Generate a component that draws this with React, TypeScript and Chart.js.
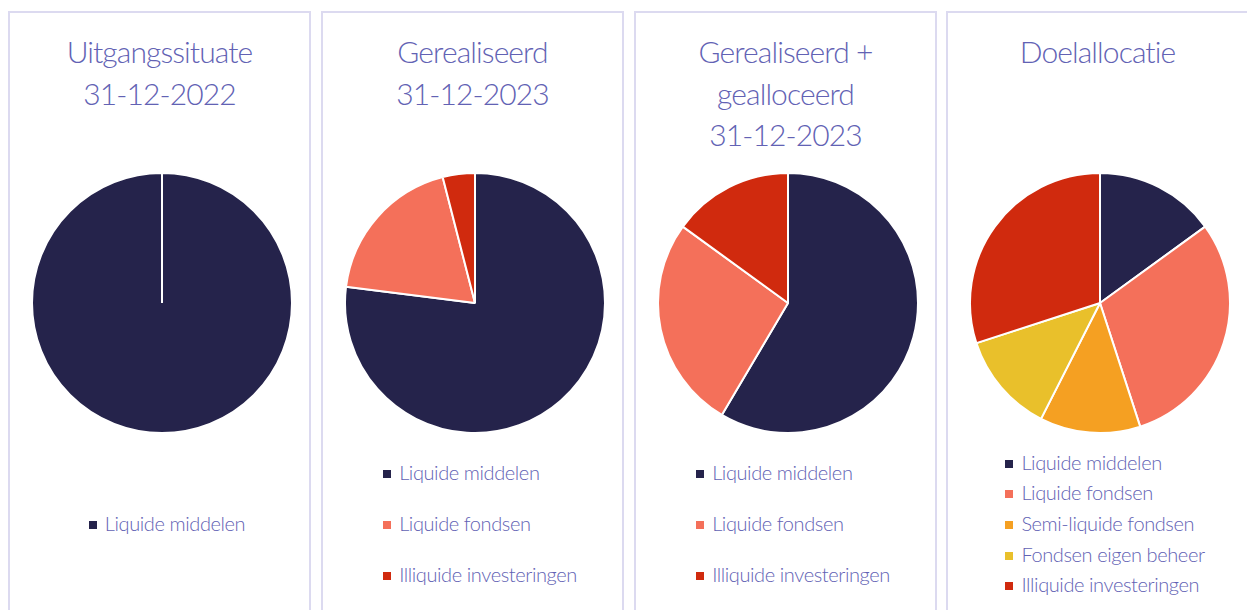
import React, { useEffect, useRef } from "react";
import { Chart, registerables } from "chart.js";

Chart.register(...registerables);

// ---- data ----
const categories = [
  "Liquide middelen",
  "Liquide fondsen",
  "Semi-liquide fondsen",
  "Fondsen eigen beheer",
  "Illiquide investeringen",
];
const categoryColors = ["#25234b", "#f4705a", "#f5a022", "#e9c02b", "#d02a0e"];

const titleUitgangs = ["Uitgangssituate", "31-12-2022"];
const titleGerealiseerd = ["Gerealiseerd", "31-12-2023"];
const titleGealloceerd = ["Gerealiseerd +", "gealloceerd", "31-12-2023"];
const titleDoel = ["Doelallocatie"];

const catsUitgangs = [0];
const valuesUitgangs = [100];

const catsGerealiseerd = [0, 1, 4];
const valuesGerealiseerd = [77, 19, 4];

const catsGealloceerd = [0, 1, 4];
const valuesGealloceerd = [58.5, 26.5, 15];

const catsDoel = [0, 1, 2, 3, 4];
const valuesDoel = [15, 30, 12.5, 12.5, 30];

const TEXT_COLOR = "#6262b4";
const FONT = "Lato, 'Open Sans', sans-serif";

type PanelProps = {
  left: number;
  title: string[];
  cats: number[];
  values: number[];
};

function PieCanvas({ cats, values }: { cats: number[]; values: number[] }) {
  const ref = useRef<HTMLCanvasElement | null>(null);
  useEffect(() => {
    if (!ref.current) return;
    const chart = new Chart(ref.current, {
      type: "pie",
      data: {
        labels: cats.map((c) => categories[c]),
        datasets: [
          {
            data: values,
            backgroundColor: cats.map((c) => categoryColors[c]),
            borderColor: "#ffffff",
            borderWidth: 2,
          },
        ],
      },
      options: {
        responsive: false,
        maintainAspectRatio: false,
        animation: false,
        layout: { padding: 0 },
        plugins: {
          legend: { display: false },
          tooltip: { enabled: false },
          title: { display: false },
        },
      },
    });
    return () => chart.destroy();
  }, [cats, values]);
  return (
    <canvas
      ref={ref}
      width={262}
      height={262}
      style={{ position: "absolute", left: 21, top: 159, width: 262, height: 262 }}
    />
  );
}

function Panel({ left, title, cats, values }: PanelProps) {
  return (
    <div
      style={{
        position: "absolute",
        left,
        top: 11,
        width: 303,
        height: 640,
        boxSizing: "border-box",
        border: "2px solid #dcdaf0",
        background: "#fff",
      }}
    >
      <div
        style={{
          position: "absolute",
          left: 0,
          right: 0,
          top: 18,
          textAlign: "center",
          fontFamily: FONT,
          fontWeight: 300,
          fontSize: 30,
          letterSpacing: "-0.9px",
          lineHeight: "41.7px",
          color: TEXT_COLOR,
        }}
      >
        {title.map((t, i) => (
          <div key={i}>{t}</div>
        ))}
      </div>
      <PieCanvas cats={cats} values={values} />
      <div
        style={{
          position: "absolute",
          left: 0,
          right: 0,
          top: 434.5,
          height: 153,
          display: "flex",
          justifyContent: "center",
          paddingLeft: 15,
          boxSizing: "border-box",
        }}
      >
        <div
          style={{
            display: "flex",
            flexDirection: "column",
            justifyContent: "space-around",
            height: 153,
          }}
        >
          {cats.map((c) => (
            <div
              key={c}
              style={{
                display: "flex",
                alignItems: "center",
                gap: 8,
                fontFamily: FONT,
                fontWeight: 300,
                fontSize: 20,
                letterSpacing: "-0.4px",
                lineHeight: "24px",
                color: TEXT_COLOR,
                whiteSpace: "nowrap",
              }}
            >
              <span
                style={{
                  display: "inline-block",
                  width: 8,
                  height: 8,
                  marginTop: 2,
                  background: categoryColors[c],
                }}
              />
              <span style={{ position: "relative", top: -1 }}>{categories[c]}</span>
            </div>
          ))}
        </div>
      </div>
    </div>
  );
}

export default function App() {
  return (
    <div
      style={{
        position: "fixed",
        left: 0,
        top: 0,
        width: 1247,
        height: 610,
        overflow: "hidden",
        background: "#fff",
      }}
    >
      <Panel left={8} title={titleUitgangs} cats={catsUitgangs} values={valuesUitgangs} />
      <Panel left={321} title={titleGerealiseerd} cats={catsGerealiseerd} values={valuesGerealiseerd} />
      <Panel left={634} title={titleGealloceerd} cats={catsGealloceerd} values={valuesGealloceerd} />
      <Panel left={946} title={titleDoel} cats={catsDoel} values={valuesDoel} />
    </div>
  );
}
